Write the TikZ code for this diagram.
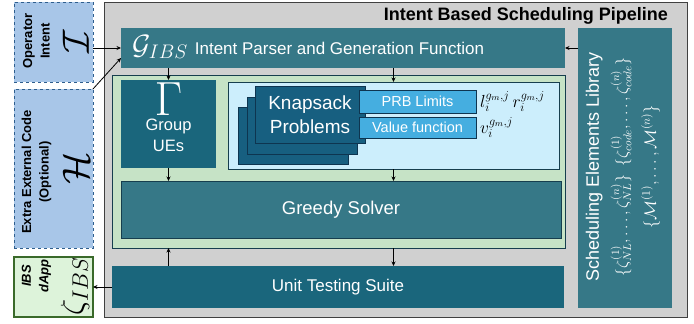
\RequirePackage{fix-cm}
\documentclass[tikz,border=0pt]{standalone}
\usepackage{fontspec}
\setmainfont{Liberation Sans}
\usetikzlibrary{arrows.meta,calc}
\definecolor{greyfill}{HTML}{D0D0D0}
\definecolor{outerline}{HTML}{404040}
\definecolor{leftfill}{HTML}{A8C6E8}
\definecolor{leftline}{HTML}{2E5E8E}
\definecolor{ibsfill}{HTML}{DDF3DA}
\definecolor{ibsline}{HTML}{3A6A2A}
\definecolor{tealA}{HTML}{367887}
\definecolor{tealB}{HTML}{1A667C}
\definecolor{greenfill}{HTML}{C6E3C6}
\definecolor{lbluefill}{HTML}{CCEEFC}
\definecolor{darkline}{HTML}{163E4E}
\definecolor{knfill}{HTML}{175F80}
\definecolor{knline}{HTML}{0E3550}
\definecolor{prbfill}{HTML}{45AEE0}
\tikzset{
  bx/.style={rectangle, inner sep=0pt, outer sep=0pt},
  outerbox/.style={bx, draw=outerline, fill=greyfill, line width=1pt},
  leftbox/.style={bx, draw=leftline, fill=leftfill, dashed, line width=1pt},
  ibsbox/.style={bx, draw=ibsline, fill=ibsfill, line width=1.4pt},
  tealbox/.style={bx, fill=tealA},
  darkbox/.style={bx, fill=tealB},
  greenbox/.style={bx, draw=darkline, fill=greenfill, line width=0.8pt},
  lbluebox/.style={bx, draw=darkline, fill=lbluefill, line width=0.8pt},
  knbox/.style={bx, draw=knline, fill=knfill, line width=0.9pt},
  prbbox/.style={bx, draw=knline, fill=prbfill, line width=0.9pt},
  greedybox/.style={bx, draw=darkline, fill=tealA, line width=0.9pt},
  wtxt/.style={text=white, inner sep=0pt, align=center},
  ltxt/.style={inner sep=0pt, align=center, font=\bfseries\fontsize{13}{17.5}\selectfont},
  arr/.style={-{Stealth[length=4.5pt,width=4pt]}, line width=0.8pt, black},
}
\begin{document}
\begin{tikzpicture}[x=1pt,y=-1pt]
\useasboundingbox (0,0) rectangle (694,324);
% outer pipeline box
\node[outerbox, minimum width=583pt, minimum height=315pt] (outer) at (395.5,159.5) {};
\node[anchor=east, inner sep=0pt, font=\bfseries\fontsize{18}{20}\selectfont] (title) at (668,16) {Intent Based Scheduling Pipeline};
% left boxes
\node[leftbox, minimum width=79pt, minimum height=80pt] (op) at (53.5,42) {};
\node[leftbox, minimum width=79pt, minimum height=159pt] (ext) at (53.5,168.5) {};
\node[ibsbox, minimum width=79pt, minimum height=60pt] (ibs) at (53.5,287) {};
\node[ltxt, rotate=90] (optxt) at (36.5,41) {Operator\\Intent};
\node[inner sep=0pt, rotate=90, font=\fontsize{38}{38}\selectfont] (opI) at (76,42) {$\mathcal{I}$};
\node[ltxt, rotate=90] (exttxt) at (36.5,172) {Extra External Code\\(Optional)};
\node[inner sep=0pt, rotate=90, font=\fontsize{38}{38}\selectfont] (extH) at (76,168) {$\mathcal{H}$};
\node[ltxt, rotate=90, font=\bfseries\itshape\fontsize{13}{17.5}\selectfont] (ibstxt) at (36.5,276) {IBS\\dApp};
\node[inner sep=0pt, rotate=90, font=\fontsize{32}{32}\selectfont] (ibsz) at (75,286) {$\zeta_{IBS}$};
% parser
\node[tealbox, minimum width=444pt, minimum height=40pt] (parser) at (343,48) {};
\node[wtxt, anchor=west, font=\fontsize{17}{20}\selectfont] (ptxt) at (132,47) {{\fontsize{28}{28}\selectfont$\mathcal{G}_{IBS}$}\hspace{7pt}Intent Parser and Generation Function};
% library
\node[tealbox, minimum width=94pt, minimum height=280pt] (lib) at (625,168) {};
\node[wtxt, rotate=90, font=\fontsize{18}{28.5}\selectfont] (libtxt) at (623,167) {Scheduling Elements Library\\
{\fontsize{16}{28.5}\selectfont$\{\zeta_{NL}^{(1)},\ldots,\zeta_{NL}^{(n)}\}\ \ \{\zeta_{code}^{(1)},\ldots,\zeta_{code}^{(n)}\}$}\\
{\fontsize{16.5}{28.5}\selectfont$\{\mathcal{M}^{(1)},\ldots,\mathcal{M}^{(n)}\}$}};
% green container
\node[greenbox, minimum width=453pt, minimum height=173pt] (green) at (338.5,161.5) {};
\node[darkbox, minimum width=95pt, minimum height=88pt] (group) at (168.5,124) {};
\node[wtxt, anchor=north, font=\fontsize{16.5}{21}\selectfont] (grptxt) at (168.5,83) {{\fontsize{48}{48}\selectfont$\Gamma$}\\[-6pt]Group\\UEs};
\node[lbluebox, minimum width=331pt, minimum height=87pt] (lblue) at (393.5,125.5) {};
\node[knbox, minimum width=110pt, minimum height=57pt] (kn3) at (293,135.5) {};
\node[knbox, minimum width=110pt, minimum height=57pt] (kn2) at (302,125.5) {};
\node[knbox, minimum width=110pt, minimum height=57pt] (kn1) at (310,115) {};
\node[wtxt, font=\fontsize{19}{24}\selectfont] (kntxt) at (kn1.center) {Knapsack\\Problems};
\node[prbbox, minimum width=117pt, minimum height=23pt] (prb) at (417.5,101.5) {};
\node[wtxt, font=\fontsize{14.5}{16}\selectfont] (prbtxt) at (prb.center) {PRB Limits};
\node[prbbox, minimum width=117pt, minimum height=21pt] (val) at (417.5,127.5) {};
\node[wtxt, font=\fontsize{14.5}{16}\selectfont] (valtxt) at (val.center) {Value function};
\node[anchor=west, inner sep=0pt, font=\fontsize{17.5}{18}\selectfont] (lr) at (480,101) {$l_i^{g_m,j}\,r_i^{g_m,j}$};
\node[anchor=west, inner sep=0pt, font=\fontsize{17.5}{18}\selectfont] (vv) at (480,127) {$v_i^{g_m,j}$};
\node[greedybox, minimum width=440pt, minimum height=57pt] (greedy) at (341,209.5) {};
\node[wtxt, font=\fontsize{18.5}{20}\selectfont] (grtxt) at (greedy.center) {Greedy Solver};
% unit testing
\node[darkbox, minimum width=452pt, minimum height=42pt] (unit) at (338,287) {};
\node[wtxt, font=\fontsize{17}{19}\selectfont] (utxt) at (unit.center) {Unit Testing Suite};
% arrows
\draw[arr] (op.east |- parser.west) -- (parser.west);
\draw[arr] (ext.north east) -- ($(parser.west)!0.5!(parser.south west)$);
\draw[arr] (lib.west |- parser.east) -- (parser.east);
\draw[arr] (parser.south -| group.north) -- (group.north);
\draw[arr] (parser.south -| lblue.north) -- (lblue.north);
\draw[arr] (group.south) -- (group.south |- greedy.north);
\draw[arr] (lblue.south) -- (lblue.south |- greedy.north);
\draw[arr] (unit.north -| group.south) -- (green.south -| group.south);
\draw[arr] (green.south -| lblue.south) -- (unit.north -| lblue.south);
\draw[arr] (unit.west) -- (ibs.east);
\end{tikzpicture}
\end{document}
